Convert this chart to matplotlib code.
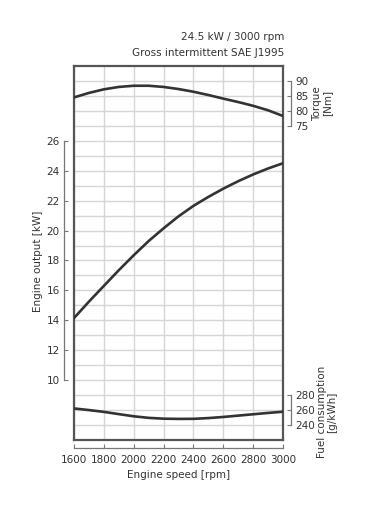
import matplotlib
matplotlib.use("Agg")
import matplotlib.pyplot as plt
import matplotlib.transforms as mtransforms

# ---- data ----
speed_rpm = [1600, 1700, 1800, 1900, 2000, 2100, 2200, 2300, 2400, 2500,
             2600, 2700, 2800, 2900, 3000]
power_kw = [14.15, 15.25, 16.3, 17.35, 18.35, 19.3, 20.15, 20.95, 21.65, 22.25,
            22.8, 23.3, 23.75, 24.15, 24.5]
torque_nm = [84.5, 86.0, 87.2, 88.0, 88.4, 88.4, 88.0, 87.3, 86.4, 85.3,
             84.1, 82.95, 81.7, 80.2, 78.3]
fuel_gkwh = [262.2, 260.0, 257.6, 254.6, 251.7, 249.6, 248.5, 248.2, 248.3, 249.3,
             250.8, 252.6, 254.4, 256.2, 257.8]

x_ticks = [1600, 1800, 2000, 2200, 2400, 2600, 2800, 3000]
kw_ticks = [10, 12, 14, 16, 18, 20, 22, 24, 26]
torque_ticks = [75, 80, 85, 90]
fuel_ticks = [240, 260, 280]

title1 = "24.5 kW / 3000 rpm"
title2 = "Gross intermittent SAE J1995"

# ---- layout ----
W, H = 377, 514
DPI = 100
fig = plt.figure(figsize=(W / DPI, H / DPI), dpi=DPI)
plt.rcParams['font.family'] = ['DejaVu Sans']

L, R, T, B = 74, 283, 66, 440
pos = [L / W, 1 - B / H, (R - L) / W, (B - T) / H]

txt = '#333333'
fs = 7.5
px = 72.0 / DPI  # points per pixel

kw_lim = (6, 31)
# torque = 75 + (kW - 27) * 5
tq_lim = (75 + (kw_lim[0] - 27) * 5, 75 + (kw_lim[1] - 27) * 5)
# fuel = 240 + (kW - 7) * 20
fu_lim = (240 + (kw_lim[0] - 7) * 20, 240 + (kw_lim[1] - 7) * 20)

# box with grid
ax = fig.add_axes(pos)
ax.set_xlim(1600, 3000)
ax.set_ylim(*kw_lim)
for xv in x_ticks:
    ax.axvline(xv, color='#d6d6d6', lw=1.0, zorder=0)
for yv in range(kw_lim[0] + 1, kw_lim[1]):
    ax.axhline(yv, color='#d6d6d6', lw=1.0, zorder=0)
ax.set_xticks([])
ax.set_yticks([])
for s in ax.spines.values():
    s.set_color('#555555')
    s.set_linewidth(1.6)
ax.set_zorder(1)

line_kw = dict(color='#333333', lw=1.9, solid_joinstyle='round')

# left + bottom offset axes (power)
axl = fig.add_axes(pos, facecolor='none')
axl.set_xlim(1600, 3000)
axl.set_ylim(*kw_lim)
axl.spines['top'].set_visible(False)
axl.spines['right'].set_visible(False)
axl.spines['left'].set_position(('outward', 10 * px))
axl.spines['left'].set_bounds(kw_ticks[0], kw_ticks[-1])
axl.spines['bottom'].set_position(('outward', 8 * px))
axl.spines['bottom'].set_bounds(x_ticks[0], x_ticks[-1])
for s in ('left', 'bottom'):
    axl.spines[s].set_color('#777777')
    axl.spines[s].set_linewidth(0.9)
axl.set_xticks(x_ticks)
axl.set_yticks(kw_ticks)
axl.tick_params(axis='both', direction='in', length=3, width=0.8, color='#777777',
                labelsize=fs, labelcolor=txt)
axl.tick_params(axis='y', pad=3)
axl.tick_params(axis='x', pad=5)
axl.plot(speed_rpm, power_kw, **line_kw)
axl.set_zorder(3)
fig.text(178.5 / W, 1 - 475 / H, "Engine speed [rpm]", ha='center', va='center',
         fontsize=fs, color=txt)
fig.text(38 / W, 1 - 261 / H, "Engine output [kW]", ha='center', va='center',
         rotation=90, fontsize=fs, color=txt)

# torque axis
axt = fig.add_axes(pos, facecolor='none')
axt.set_xlim(1600, 3000)
axt.set_ylim(*tq_lim)
for s in ('top', 'left', 'bottom'):
    axt.spines[s].set_visible(False)
axt.yaxis.tick_right()
axt.spines['right'].set_position(('outward', 8 * px))
axt.spines['right'].set_bounds(torque_ticks[0], torque_ticks[-1])
axt.spines['right'].set_color('#777777')
axt.spines['right'].set_linewidth(0.9)
axt.set_xticks([])
axt.set_yticks(torque_ticks)
axt.tick_params(axis='y', direction='in', length=3, width=0.8, color='#777777',
                labelsize=fs, labelcolor=txt, pad=3)
axt.plot(speed_rpm, torque_nm, **line_kw)
axt.set_zorder(3)
trt = mtransforms.blended_transform_factory(axt.transAxes, axt.transData)
axt.text((322 - L) / (R - L), (torque_ticks[0] + torque_ticks[-1]) / 2, "Torque\n[Nm]",
         transform=trt, rotation=90, ha='center', va='center', fontsize=fs,
         color=txt, linespacing=1.0, multialignment='center')

# fuel axis
axf = fig.add_axes(pos, facecolor='none')
axf.set_xlim(1600, 3000)
axf.set_ylim(*fu_lim)
for s in ('top', 'left', 'bottom'):
    axf.spines[s].set_visible(False)
axf.yaxis.tick_right()
axf.spines['right'].set_position(('outward', 8 * px))
axf.spines['right'].set_bounds(fuel_ticks[0], fuel_ticks[-1])
axf.spines['right'].set_color('#777777')
axf.spines['right'].set_linewidth(0.9)
axf.set_xticks([])
axf.set_yticks(fuel_ticks)
axf.tick_params(axis='y', direction='in', length=3, width=0.8, color='#777777',
                labelsize=fs, labelcolor=txt, pad=3)
axf.plot(speed_rpm, fuel_gkwh, **line_kw)
axf.set_zorder(3)
trf = mtransforms.blended_transform_factory(axf.transAxes, axf.transData)
axf.text((327 - L) / (R - L), 257, "Fuel consumption\n[g/kWh]",
         transform=trf, rotation=90, ha='center', va='center', fontsize=fs,
         color=txt, linespacing=1.0, multialignment='center')

# titles
fig.text(284 / W, 1 - 37.5 / H, title1, ha='right', va='center', fontsize=fs, color=txt)
fig.text(284 / W, 1 - 53.5 / H, title2, ha='right', va='center', fontsize=fs, color=txt)

fig.savefig("out.png", dpi=DPI)
